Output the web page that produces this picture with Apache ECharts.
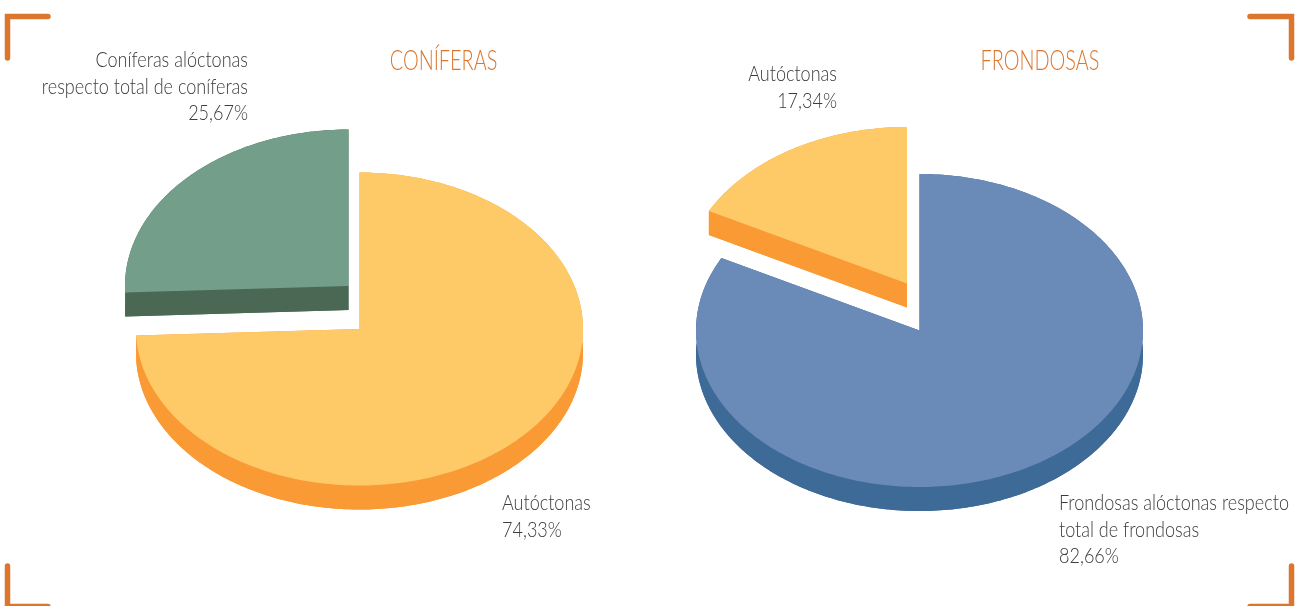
<!DOCTYPE html>
<html><head><meta charset="utf-8">
<style>html,body{margin:0;padding:0;background:#fff}#c{width:1300px;height:606px}</style>
<script src="https://cdn.jsdelivr.net/npm/echarts@6/dist/echarts.min.js"></script>
</head><body><div id="c"></div>
<script>
// data
const coniferasNames = ['Coníferas alóctonas\nrespecto total de coníferas', 'Autóctonas'];
const coniferasValues = [25.67, 74.33];
const frondosasNames = ['Autóctonas', 'Frondosas alóctonas respecto\ntotal de frondosas'];
const frondosasValues = [17.34, 82.66];
const titles = ['CONÍFERAS', 'FRONDOSAS'];

// layout/styling
const RX = 223.5, RY = 156.5, DEPTH = 24;
const leftPie = {cx: 359.5, cy: 329};
const rightPie = {cx: 919.5, cy: 330.5};
const leftStyle = [
  {top: '#739E89', side: '#4A6854', dx: -11, dy: -43},
  {top: '#FEC967', side: '#FA9A35', dx: 0, dy: 0}];
const rightStyle = [
  {top: '#FEC967', side: '#FA9A35', dx: -12.5, dy: -47},
  {top: '#6A8AB7', side: '#3D6A97', dx: 0, dy: 0}];
const ORANGE = '#DC762D', TEXT = '#3c3c3c';
const FONT = 'Lato';

function pieSeries(values, pie, styles) {
  const total = values.reduce((a, b) => a + b, 0);
  // slices run counter-clockwise from 12 o'clock
  let acc = 0;
  const rows = values.map((v, i) => { const r = [v, acc, i]; acc += v; return r; });
  return {
    type: 'custom', coordinateSystem: 'none', silent: true, animation: false,
    data: rows, clip: false,
    renderItem(params, api) {
      const v = api.value(0), start = api.value(1), s = styles[api.value(2)];
      const a0 = start / total * 2 * Math.PI, a1 = (start + v) / total * 2 * Math.PI;
      const ox = pie.cx + s.dx, oy = pie.cy + s.dy;
      const pt = (a, d) => [ox - RX * Math.sin(a), oy - RY * Math.cos(a) + d];
      const n = Math.ceil((a1 - a0) / (Math.PI / 180));
      const arc = [];
      for (let k = 0; k <= n; k++) arc.push(a0 + (a1 - a0) * k / n);
      const face = d => [[ox, oy + d]].concat(arc.map(a => pt(a, d)));
      const strip = arc.map(a => pt(a, 0)).concat(arc.slice().reverse().map(a => pt(a, DEPTH)));
      const fill = (pts, color) => ({type: 'polygon', shape: {points: pts}, style: {fill: color}});
      return {type: 'group', children: [
        fill(face(DEPTH), s.side),
        fill(strip, s.side),
        fill([[ox, oy], pt(a1, 0), pt(a1, DEPTH), [ox, oy + DEPTH]], s.side),
        fill([[ox, oy], pt(a0, 0), pt(a0, DEPTH), [ox, oy + DEPTH]], s.side),
        fill(face(0), s.top)
      ]};
    }
  };
}

const pct = v => v.toFixed(2).replace('.', ',') + '%';
function text(str, x, y, align, size, color, sx) {
  return {type: 'text', x: x, y: y, scaleX: sx, silent: true,
    style: {text: str, fill: color, align: align, verticalAlign: 'top',
      font: '300 ' + size + 'px ' + FONT, lineHeight: 26.5}};
}
function corner(pts) {
  return {type: 'polyline', silent: true, shape: {points: pts},
    style: {stroke: ORANGE, lineWidth: 5.5, fill: null, lineCap: 'round', lineJoin: 'miter'}};
}
const SX = 0.82, TITLE_SX = 0.71;
const chart = echarts.init(document.getElementById('c'), null, {renderer: 'canvas'});
chart.setOption({
  backgroundColor: '#fff',
  animation: false,
  series: [pieSeries(coniferasValues, leftPie, leftStyle), pieSeries(frondosasValues, rightPie, rightStyle)],
  graphic: [
    corner([[7.5, 58], [7.5, 16.5], [48, 16.5]]),
    corner([[1250, 16.5], [1291.5, 16.5], [1291.5, 58]]),
    corner([[7.5, 566], [7.5, 606.5], [48, 606.5]]),
    corner([[1250, 606.5], [1291.5, 606.5], [1291.5, 566]]),
    text(titles[0], 443.5, 48, 'center', 28, ORANGE, TITLE_SX),
    text(titles[1], 1040, 48, 'center', 28, ORANGE, TITLE_SX),
    text(coniferasNames[0] + '\n' + pct(coniferasValues[0]), 248, 47, 'right', 22, TEXT, SX),
    text(coniferasNames[1] + '\n' + pct(coniferasValues[1]), 502, 490, 'left', 22, TEXT, SX),
    text(frondosasNames[0] + '\n' + pct(frondosasValues[0]), 837, 61, 'right', 22, TEXT, SX),
    text(frondosasNames[1] + '\n' + pct(frondosasValues[1]), 1059, 490, 'left', 22, TEXT, SX)
  ]
});
</script></body></html>
